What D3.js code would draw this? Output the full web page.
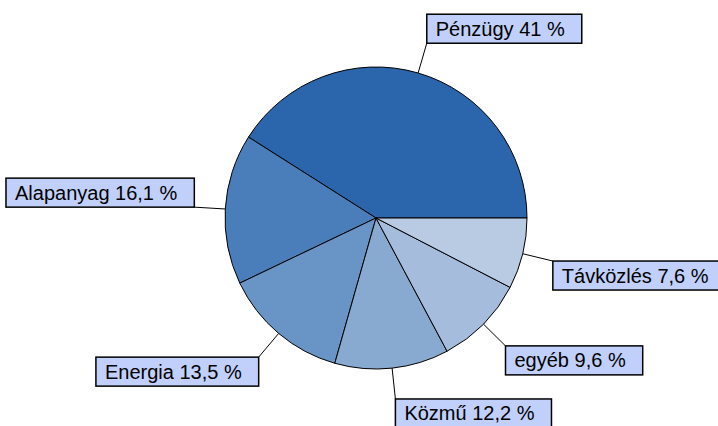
<!DOCTYPE html>
<html>
<head>
<meta charset="utf-8">
<script src="https://cdnjs.cloudflare.com/ajax/libs/d3/7.8.5/d3.min.js"></script>
<style>
  body { margin: 0; background: #fff; }
  svg { display: block; }
</style>
</head>
<body>
<div id="chart"></div>
<script>
// data
const categories = ["Pénzügy", "Alapanyag", "Energia", "Közmű", "egyéb", "Távközlés"];
const shares = [41, 16.1, 13.5, 12.2, 9.6, 7.6];
const shareLabels = ["41 %", "16,1 %", "13,5 %", "12,2 %", "9,6 %", "7,6 %"];
const colors = ["#2b65ab", "#4a7ebb", "#6994c6", "#88a9d0", "#a5bcdc", "#b8cbe3"];

(function () {
    let width = 718, height = 426;
    let cx = 376, cy = 218, r = 151, rLabel = 182;

    let svg = d3.select("#chart")
        .append("svg")
        .attr("width", width)
        .attr("height", height);

    let data = categories.map((c, i) => ({ name: c, value: shares[i], label: shareLabels[i], color: colors[i] }));

    // starts at 3 o'clock and runs counter-clockwise
    let pie = d3.pie()
        .sort(null)
        .value(d => d.value)
        .startAngle(Math.PI / 2)
        .endAngle(Math.PI / 2 - 2 * Math.PI);

    let arc = d3.arc().innerRadius(0).outerRadius(r);

    let g = svg.append("g")
        .attr("transform", `translate(${cx},${cy})`);

    let arcs = pie(data);

    g.selectAll(".slice")
        .data(arcs)
        .enter()
        .append("path")
        .attr("class", "slice")
        .attr("d", arc)
        .attr("fill", d => d.data.color)
        .attr("stroke", "#000")
        .attr("stroke-width", 1);

    // leader lines + label boxes
    let point = (a, rad) => [Math.sin(a) * rad, -Math.cos(a) * rad];

    arcs.forEach(d => {
        let mid = (d.startAngle + d.endAngle) / 2;
        let p0 = point(mid, r);
        let p1 = point(mid, rLabel);

        g.append("line")
            .attr("x1", p0[0]).attr("y1", p0[1])
            .attr("x2", p1[0]).attr("y2", p1[1])
            .attr("stroke", "#000")
            .attr("stroke-width", 1);

        let lg = g.append("g");
        let rect = lg.append("rect");
        let txt = lg.append("text")
            .text(d.data.name + " " + d.data.label)
            .attr("font-family", "Liberation Sans, Arial, sans-serif")
            .attr("font-size", "20px")
            .attr("fill", "#000");
        let tw = txt.node().getComputedTextLength();
        let bw = tw + 26, bh = 29;
        let right = p1[0] > 0;
        let upper = p1[1] < 0;
        let bx = right ? p1[0] : p1[0] - bw;
        let by = upper ? p1[1] - bh : p1[1];
        rect.attr("x", bx).attr("y", by)
            .attr("width", bw).attr("height", bh)
            .attr("fill", "#c1d0fa")
            .attr("stroke", "#000")
            .attr("stroke-width", 1.5);
        txt.attr("x", bx + 9).attr("y", by + 21.5);
    });
})();
</script>
</body>
</html>
